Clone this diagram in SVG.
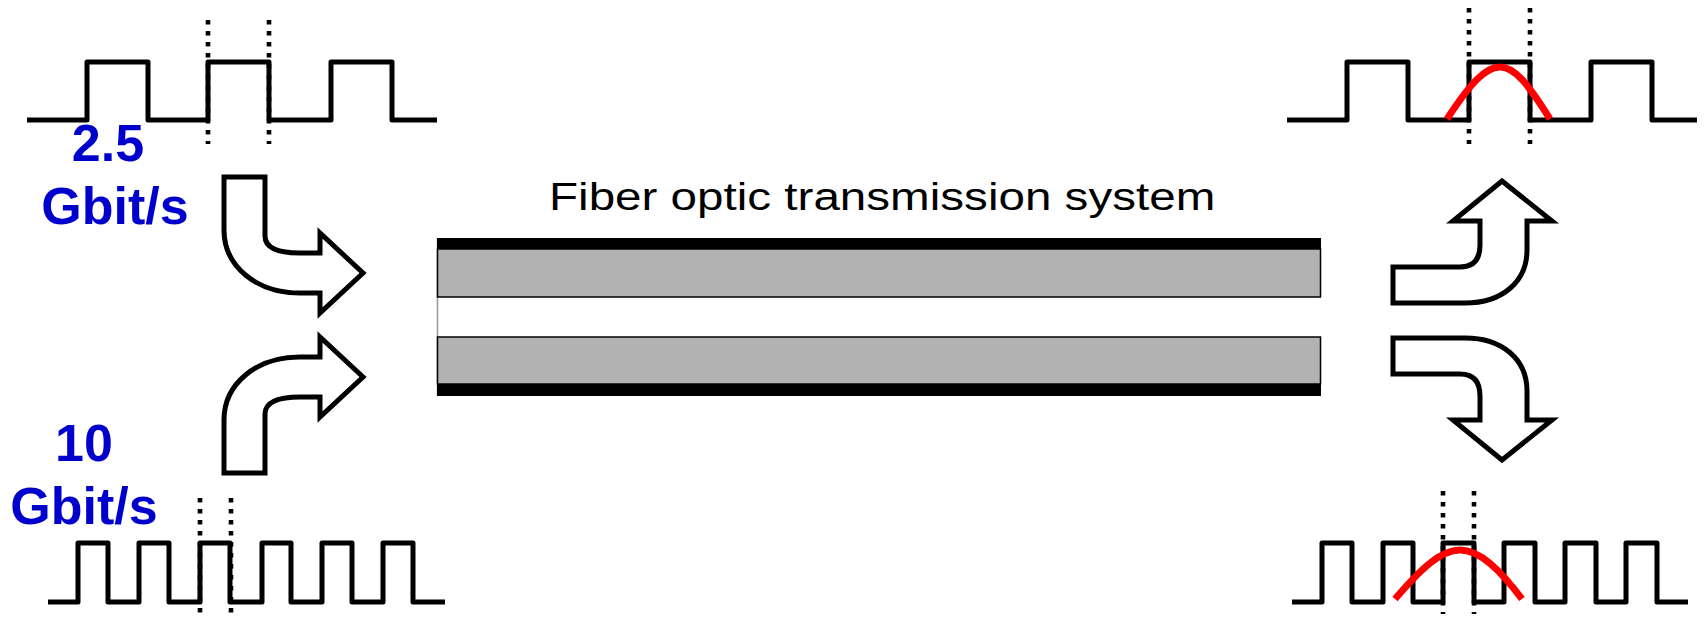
<svg xmlns="http://www.w3.org/2000/svg" width="1704" height="618" viewBox="0 0 1704 618">
<style>
.wave{fill:none;stroke:#000;stroke-width:5;stroke-linejoin:round;stroke-linecap:butt}
.dot{fill:none;stroke:#000;stroke-width:4.6;stroke-dasharray:4.6 6.4}
.eye{fill:none;stroke:#ff0000;stroke-width:7;stroke-linecap:butt}
.arrow{fill:#fff;stroke:#000;stroke-width:5;stroke-linejoin:miter}
.rate{font-family:"Liberation Sans",Arial,sans-serif;font-weight:bold;font-size:52px;fill:#0000cc;text-anchor:middle}
.title{font-family:"Liberation Sans",Arial,sans-serif;font-size:39px;fill:#000}
.core{fill:#b2b2b2;stroke:#000;stroke-width:1.5}
</style>
<rect width="1704" height="618" fill="#fff"/>

<g id="signal-2g5-in">
<path class="wave" d="M27,120 H87 V62 H148 V120 H208 V62 H269 V120 H331 V62 H392 V120 H437"/>
<line class="dot" x1="208" y1="20" x2="208" y2="144"/>
<line class="dot" x1="269" y1="20" x2="269" y2="144"/>
<text class="rate" x="108" y="161">2.5</text>
<text class="rate" x="115" y="224">Gbit/s</text>
</g>

<g id="signal-10g-in">
<path class="wave" d="M48,602 H78 V543 H108 V602 H139 V543 H169 V602 H200 V543 H230 V602 H262 V543 H291 V602 H322 V543 H352 V602 H383 V543 H413 V602 H445"/>
<line class="dot" x1="200" y1="498" x2="200" y2="618"/>
<line class="dot" x1="231" y1="498" x2="231" y2="618"/>
<text class="rate" x="84" y="461">10</text>
<text class="rate" x="84" y="524">Gbit/s</text>
</g>

<g id="fiber">
<text class="title" transform="translate(549,210) scale(1.22,1)" x="0" y="0">Fiber optic transmission system</text>
<line x1="437.5" y1="238" x2="437.5" y2="396" stroke="#999" stroke-width="1.5"/>
<rect x="437" y="238" width="884" height="11" fill="#000"/>
<rect class="core" x="437.5" y="249" width="883" height="48"/>
<rect class="core" x="437.5" y="337" width="883" height="47"/>
<rect x="437" y="384" width="884" height="12" fill="#000"/>
</g>

<g id="signal-2g5-out">
<path class="wave" d="M1287,120 H1347 V62 H1408 V120 H1469 V62 H1530 V120 H1591 V62 H1652 V120 H1697"/>
<line class="dot" x1="1469" y1="8" x2="1469" y2="144"/>
<line class="dot" x1="1530" y1="8" x2="1530" y2="144"/>
<path class="eye" d="M1447,119 C1470,84 1485,67 1500,67 C1515,67 1528,84 1550,119"/>
</g>

<g id="signal-10g-out">
<path class="wave" d="M1292,602 H1322 V543 H1352 V602 H1383 V543 H1413 V602 H1443 V543 H1474 V602 H1504 V543 H1535 V602 H1565 V543 H1596 V602 H1626 V543 H1657 V602 H1688"/>
<line class="dot" x1="1443" y1="491" x2="1443" y2="614"/>
<line class="dot" x1="1474" y1="491" x2="1474" y2="614"/>
<path class="eye" d="M1395,599 C1420,570 1440,550 1460,550 C1480,550 1500,570 1522,599"/>
</g>

<g id="connectors">
<path class="arrow" d="M224,177 H265 V236 Q265,253 300,253 H320 V233 L363,273 L320,313 V293 H300 C256,293 224,266 224,230 Z"/>
<path class="arrow" transform="translate(0,650) scale(1,-1)" d="M224,177 H265 V236 Q265,253 300,253 H320 V233 L363,273 L320,313 V293 H300 C256,293 224,266 224,230 Z"/>
<path class="arrow" d="M1393,267 H1460 Q1480,267 1480,245 V221 H1453 L1502,181 L1552,221 H1527 V250 C1527,282 1502,303 1465,303 H1393 Z"/>
<path class="arrow" transform="translate(0,641) scale(1,-1)" d="M1393,267 H1460 Q1480,267 1480,245 V221 H1453 L1502,181 L1552,221 H1527 V250 C1527,282 1502,303 1465,303 H1393 Z"/>
</g>
</svg>
